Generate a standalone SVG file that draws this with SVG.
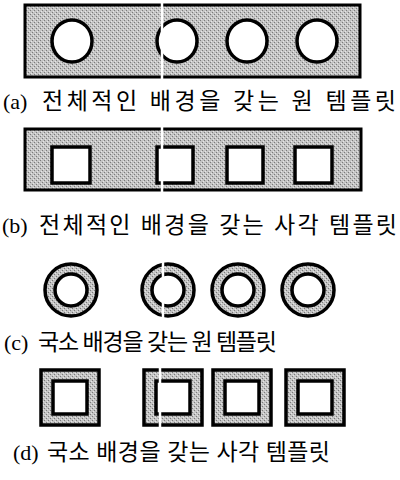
<svg xmlns="http://www.w3.org/2000/svg" width="400" height="480" viewBox="0 0 400 480">
<defs>
<pattern id="tex" width="4" height="4" patternUnits="userSpaceOnUse">
<rect width="4" height="4" fill="#c4c4c4"/>
<rect x="0" y="0" width="1" height="1" fill="#7a7a7a"/>
<rect x="2" y="2" width="1" height="1" fill="#7a7a7a"/>
<rect x="1" y="3" width="1" height="1" fill="#e6e6e6"/>
<rect x="3" y="1" width="1" height="1" fill="#e6e6e6"/>
</pattern>
</defs>
<style>
.bg{fill:url(#tex);stroke:#000;stroke-width:3}
.hole{fill:#fff;stroke:#000;stroke-width:3.5}
.ring{fill:url(#tex);stroke:#000;stroke-width:3.5}
.cut{stroke:#fff;stroke-width:2.5}
.lbl{font-family:"Liberation Serif","Noto Sans CJK KR",serif;font-size:22px;fill:#000}
.ko{font-family:"Liberation Serif","Noto Sans CJK KR",serif;font-size:23px;fill:#000}
</style>
<rect width="400" height="480" fill="#fff"/>
<g id="panel-a">
<rect class="bg" x="25" y="5" width="335" height="72"/>
<ellipse class="hole" cx="72" cy="41" rx="20" ry="21"/>
<ellipse class="hole" cx="177" cy="41" rx="20" ry="21"/>
<ellipse class="hole" cx="247" cy="41" rx="20" ry="21"/>
<ellipse class="hole" cx="317" cy="41" rx="20" ry="21"/>
<line class="cut" x1="162" y1="0" x2="162" y2="80"/>
<text class="lbl" x="3" y="109">(a)</text>
<text class="ko" x="42" y="109" textLength="354" lengthAdjust="spacing">전체적인 배경을 갖는 원 템플릿</text>
</g>
<g id="panel-b">
<rect class="bg" x="25" y="129" width="336" height="61"/>
<rect class="hole" x="52" y="147" width="38" height="36"/>
<rect class="hole" x="157" y="147" width="36" height="36"/>
<rect class="hole" x="227" y="147" width="36" height="36"/>
<rect class="hole" x="295" y="147" width="37" height="36"/>
<line class="cut" x1="162" y1="124" x2="162" y2="195"/>
<text class="lbl" x="2" y="233">(b)</text>
<text class="ko" x="39" y="233" textLength="358" lengthAdjust="spacing">전체적인 배경을 갖는 사각 템플릿</text>
</g>
<g id="panel-c">
<circle class="ring" cx="71" cy="290" r="26"/>
<circle class="hole" cx="71" cy="290" r="16"/>
<circle class="ring" cx="168" cy="290" r="26"/>
<circle class="hole" cx="168" cy="290" r="16"/>
<circle class="ring" cx="238" cy="290" r="26"/>
<circle class="hole" cx="238" cy="290" r="16"/>
<circle class="ring" cx="308" cy="290" r="26"/>
<circle class="hole" cx="308" cy="290" r="16"/>
<line class="cut" x1="163" y1="258" x2="163" y2="322"/>
<text class="lbl" x="4" y="350">(c)</text>
<text class="ko" x="38" y="350" textLength="239" lengthAdjust="spacing">국소 배경을 갖는 원 템플릿</text>
</g>
<g id="panel-d">
<rect class="ring" x="41" y="370" width="58" height="55"/>
<rect class="hole" x="53" y="381" width="34" height="33"/>
<rect class="ring" x="144" y="370" width="58" height="55"/>
<rect class="hole" x="156" y="381" width="34" height="33"/>
<rect class="ring" x="213" y="370" width="58" height="55"/>
<rect class="hole" x="225" y="381" width="34" height="33"/>
<rect class="ring" x="286" y="370" width="58" height="55"/>
<rect class="hole" x="298" y="381" width="34" height="33"/>
<line class="cut" x1="160" y1="366" x2="160" y2="429"/>
<text class="lbl" x="13" y="460">(d)</text>
<text class="ko" x="47" y="460" textLength="283" lengthAdjust="spacing">국소 배경을 갖는 사각 템플릿</text>
</g>
</svg>
